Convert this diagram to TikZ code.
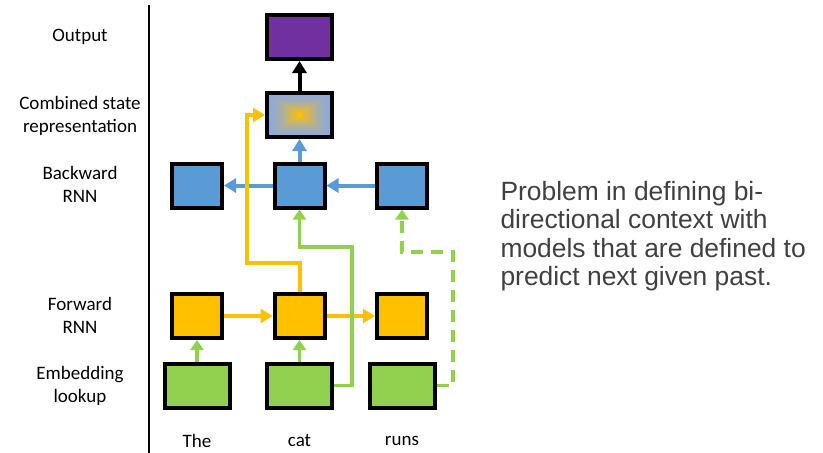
\documentclass[tikz,border=0pt]{standalone}
\usepackage{fontspec}
\setmainfont{Carlito}
\newfontfamily\arialfont{Liberation Sans}
\usetikzlibrary{arrows.meta}
\definecolor{orng}{HTML}{FFC000}
\definecolor{blu}{HTML}{5B9BD5}
\definecolor{grn}{HTML}{92D050}
\definecolor{purp}{HTML}{7030A0}
\definecolor{bgray}{HTML}{8EA9DB}
\definecolor{txtgray}{HTML}{404040}
\begin{document}
\begin{tikzpicture}[x=1pt,y=-1pt]
      \tikzstyle{box} = [draw=black, line width=4pt, inner sep=0pt, minimum width=50pt, minimum height=44pt]
        \tikzstyle{wide} = [box, minimum width=65pt]
        \tikzstyle{lbl} = [align=center, font=\fontsize{19}{23}\selectfont]
        \tikzstyle{arr} = [line width=4pt, -{Triangle[width=14pt,length=12pt]}]
        \tikzstyle{garr} = [line width=3.5pt, color=grn, -{Triangle[width=13pt,length=10pt]}]
        \tikzstyle{blend} = [path picture={
            \foreach \k in {0,...,12}{
              \pgfmathsetmacro\p{(\k/12)^1.6*100}
              \fill[orng!\p!bgray] ([xshift=\k*2.6pt, yshift=-\k*1.7pt]path picture bounding box.north west)
                rectangle ([xshift=-\k*2.6pt, yshift=\k*1.7pt]path picture bounding box.south east);
            }}]
          \useasboundingbox (0,0) rectangle (823,453);
          \draw[line width=2pt] (149,5) -- (149,453);
          \node[lbl] (lout) at (80,37) {Output};
          \node[lbl] (lcomb) at (80,115.5) {Combined state\\representation};
          \node[lbl] (lbwd) at (80,184.5) {Backward\\RNN};
          \node[lbl] (lfwd) at (80,315.5) {Forward\\RNN};
          \node[lbl] (lemb) at (80,385.5) {Embedding\\lookup};
          \node[wide, fill=purp] (out) at (299.5,37) {};
          \node[wide, blend] (comb) at (299.5,115) {};
          \node[box, fill=blu] (bl) at (197,185.5) {};
          \node[box, fill=blu] (bm) at (299.5,185.5) {};
          \node[box, fill=blu] (br) at (402,185.5) {};
          \node[box, fill=orng] (fl) at (197,316) {};
          \node[box, fill=orng] (fm) at (299.5,316) {};
          \node[box, fill=orng] (fr) at (402,316) {};
          \node[wide, fill=grn] (el) at (197,385.5) {};
          \node[wide, fill=grn] (em) at (299.5,385.5) {};
          \node[wide, fill=grn] (er) at (402,385.5) {};
          \node[lbl] (wthe) at (197,441) {The};
          \node[lbl] (wcat) at (299.5,441) {cat};
          \node[lbl] (wruns) at (402,441) {runs};
          \node[anchor=west, align=left, text=txtgray, font=\arialfont\fontsize{26.4}{28.5}\selectfont] (note) at (497,236)
            {Problem in defining bi-\\directional context with\\models that are defined to\\predict next given past.};
          \coordinate (oturn) at (247,263);
          \coordinate (gturn) at (352,247);
          \coordinate (dturn) at (453,252);
          \draw[arr, color=black] (comb) -- (out);
          \draw[arr, color=blu] (bm) -- (comb);
          \draw[arr, color=blu] (br) -- (bm);
          \draw[arr, color=blu] (bm) -- (bl);
          \draw[arr, color=orng] (fm.north) |- (oturn) |- (comb.west);
          \draw[arr, color=orng] (fl) -- (fm);
          \draw[arr, color=orng] (fm) -- (fr);
          \draw[garr] (el) -- (fl);
          \draw[garr] (em) -- (fm);
          \draw[garr] (em.east) -| (gturn) -| (bm.south);
          \draw[garr, dash pattern=on 12pt off 8pt] (er.east) -| (dturn) -| (br.south);
        \end{tikzpicture}
\end{document}
